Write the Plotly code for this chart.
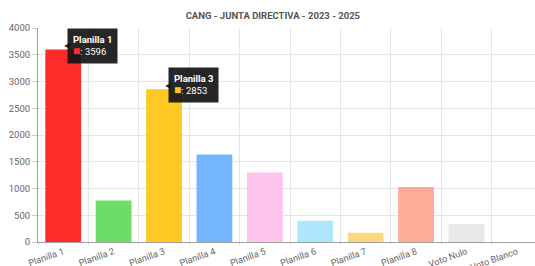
import plotly.graph_objects as go

categories = ["Planilla 1", "Planilla 2", "Planilla 3", "Planilla 4", "Planilla 5",
              "Planilla 6", "Planilla 7", "Planilla 8", "Voto Nulo", "Voto Blanco"]
votes = [3596, 778, 2853, 1637, 1301, 398, 174, 1028, 336, 0]
colors = ["#ff2b2b", "#6ddc68", "#ffc823", "#74b5ff", "#ffc2ec",
          "#aee7fc", "#fcd77c", "#ffab99", "#e8e8e8", "#d9d9d9"]
tooltip_items = [0, 2]
title = "CANG - JUNTA DIRECTIVA - 2023 - 2025"
y_ticks = [0, 500, 1000, 1500, 2000, 2500, 3000, 3500, 4000]

fig = go.Figure()
fig.add_trace(go.Bar(x=categories, y=votes, marker=dict(color=colors, line=dict(width=0)),
                     hoverinfo="skip"))

for i in tooltip_items:
    fig.add_annotation(
        x=categories[i], y=votes[i], xref="x", yref="y",
        xanchor="left", yanchor="middle", xshift=4, yshift=4, showarrow=False, align="left",
        text=(f"<b>{categories[i]}</b><br><span style='color:{colors[i]};font-size:12px'>■</span>"
              f": {votes[i]}"),
        font=dict(family="Roboto, Arial, sans-serif", size=9.5, color="#ffffff"),
        bgcolor="rgba(20,20,20,0.92)", borderpad=5,
    )
    fig.add_annotation(
        x=categories[i], y=votes[i], xref="x", yref="y",
        xanchor="left", yanchor="middle", xshift=-1, yshift=4, showarrow=False,
        text="◀", font=dict(size=8, color="rgba(20,20,20,0.92)"),
    )

fig.update_layout(
    width=535, height=266,
    margin=dict(l=38, r=0, t=28, b=24),
    paper_bgcolor="white", plot_bgcolor="white",
    bargap=0.29, showlegend=False,
    title=dict(text=f"<b>{title}</b>", x=0.51, xanchor="center", y=0.942, yanchor="middle",
               font=dict(family="Roboto, Arial, sans-serif", size=9.5, color="#555555")),
    font=dict(family="Roboto, Arial, sans-serif", size=9.5, color="#666666"),
    xaxis=dict(range=[-0.5, 9.36], tickson="boundaries", showgrid=True, gridcolor="#e6e6e6",
               ticks="outside", ticklen=2, tickcolor="#dddddd", tickangle=-20,
               tickfont=dict(size=9.2),
               showline=True, linecolor="#a0a0a0", linewidth=1, fixedrange=True,
               automargin=False),
    yaxis=dict(range=[0, 4000], tickvals=y_ticks, showgrid=True, gridcolor="#e6e6e6",
               ticks="outside", ticklen=5, tickcolor="#cccccc",
               showline=True, linecolor="#a0a0a0", linewidth=1, zeroline=False, fixedrange=True,
               automargin=False),
)

fig.write_html("out.html", config={"displayModeBar": False},
               post_script="document.body.style.margin='0';document.body.style.overflow='hidden';")
